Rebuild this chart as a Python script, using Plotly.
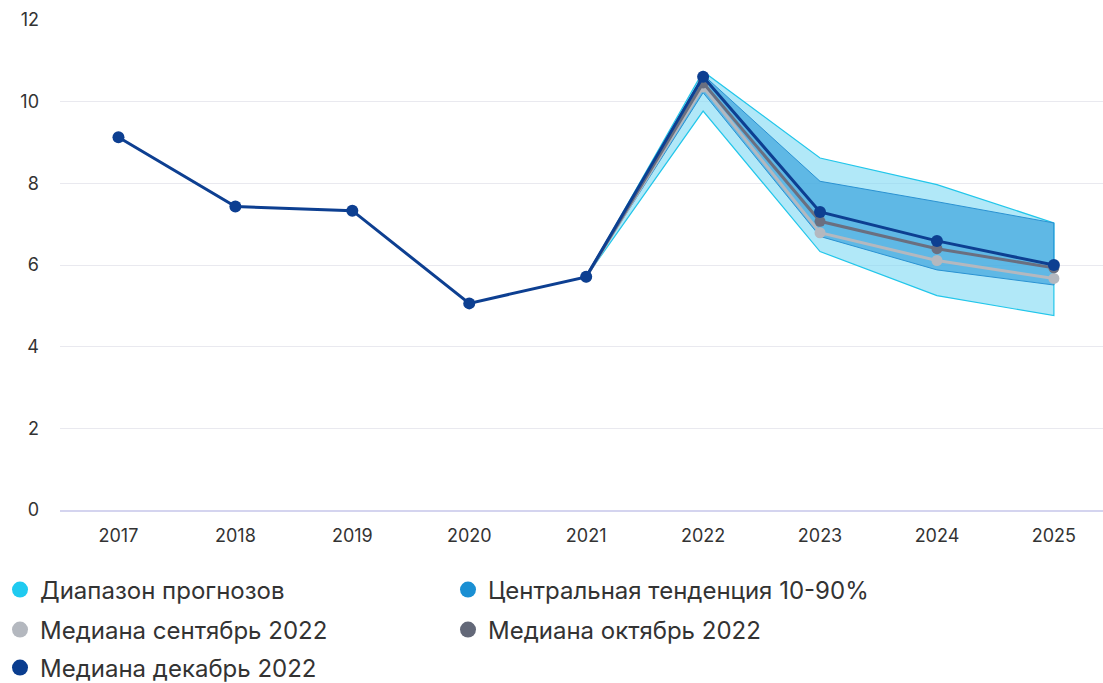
import plotly.graph_objects as go

years = [2017, 2018, 2019, 2020, 2021, 2022, 2023, 2024, 2025]
fc_years = [2021, 2022, 2023, 2024, 2025]

median_dec = [9.13, 7.43, 7.33, 5.06, 5.71, 10.61, 7.30, 6.59, 6.00]
median_oct = [5.71, 10.46, 7.07, 6.40, 5.93]
median_sep = [5.71, 10.36, 6.79, 6.11, 5.67]

range_hi = [5.71, 10.74, 8.62, 7.97, 7.03]
range_lo = [5.71, 9.77, 6.33, 5.25, 4.76]
central_hi = [5.71, 10.66, 8.05, 7.55, 7.03]
central_lo = [5.71, 10.22, 6.70, 5.88, 5.51]

names = ["Диапазон прогнозов", "Центральная тенденция 10-90%",
         "Медиана сентябрь 2022", "Медиана октябрь 2022", "Медиана декабрь 2022"]
legend_colors = ["#1fcaf0", "#1a8fd3", "#b4b8bf", "#636878", "#0a3d8f"]
legend_rows = ["legend", "legend", "legend2", "legend2", "legend3"]

yticks = [0, 2, 4, 6, 8, 10, 12]

fig = go.Figure()

# Forecast range
fig.add_trace(go.Scatter(
    x=fc_years + fc_years[::-1], y=range_hi + range_lo[::-1],
    fill="toself", fillcolor="rgba(125,217,243,0.6)",
    line=dict(color="#22c6ea", width=1.2), mode="lines",
    showlegend=False, hoverinfo="skip"))

# Central tendency
fig.add_trace(go.Scatter(
    x=fc_years + fc_years[::-1], y=central_hi + central_lo[::-1],
    fill="toself", fillcolor="rgba(45,155,218,0.62)",
    line=dict(color="#2a92d2", width=1), mode="lines",
    showlegend=False, hoverinfo="skip"))

fig.add_trace(go.Scatter(
    x=fc_years, y=median_sep, mode="lines+markers",
    line=dict(color="#b4b8bf", width=3),
    marker=dict(color="#b4b8bf", size=11), showlegend=False))

fig.add_trace(go.Scatter(
    x=fc_years, y=median_oct, mode="lines+markers",
    line=dict(color="#6a6f80", width=3),
    marker=dict(color="#6a6f80", size=11), showlegend=False))

fig.add_trace(go.Scatter(
    x=years, y=median_dec, mode="lines+markers",
    line=dict(color="#0d3f91", width=3),
    marker=dict(color="#0d3f91", size=12), showlegend=False))

for n, c, lg in zip(names, legend_colors, legend_rows):
    fig.add_trace(go.Scatter(
        x=[None], y=[None], mode="markers", name=n, legend=lg,
        marker=dict(color=c, size=16), showlegend=True))

leg_common = dict(
    orientation="h", xref="container", yref="container",
    x=0.0, xanchor="left", yanchor="middle",
    entrywidth=403, entrywidthmode="pixels",
    font=dict(size=24, color="#333333"),
    itemsizing="trace", bgcolor="rgba(0,0,0,0)")

fig.update_layout(
    width=1103, height=683,
    margin=dict(l=60, r=0, t=20, b=173),
    plot_bgcolor="white", paper_bgcolor="white",
    font=dict(family="Inter, Roboto, sans-serif", color="#333333"),
    xaxis=dict(
        range=[2016.5, 2025.42], tickmode="array", tickvals=years,
        ticktext=[str(y) for y in years], showgrid=False, zeroline=False,
        showline=True, linecolor="#d4d4ef", linewidth=1.5,
        tickfont=dict(size=18, color="#333333"), ticklabelstandoff=9),
    yaxis=dict(
        range=[0, 12], tickmode="array", tickvals=yticks,
        showgrid=True, gridcolor="#e9e9ef", gridwidth=1, zeroline=False,
        showline=False, tickfont=dict(size=18, color="#333333"),
        ticklabelstandoff=20),
    legend=dict(leg_common, y=1 - 590 / 683),
    legend2=dict(leg_common, y=1 - 630 / 683),
    legend3=dict(leg_common, y=1 - 668 / 683),
    showlegend=True,
)

fig.write_html("out.html")
